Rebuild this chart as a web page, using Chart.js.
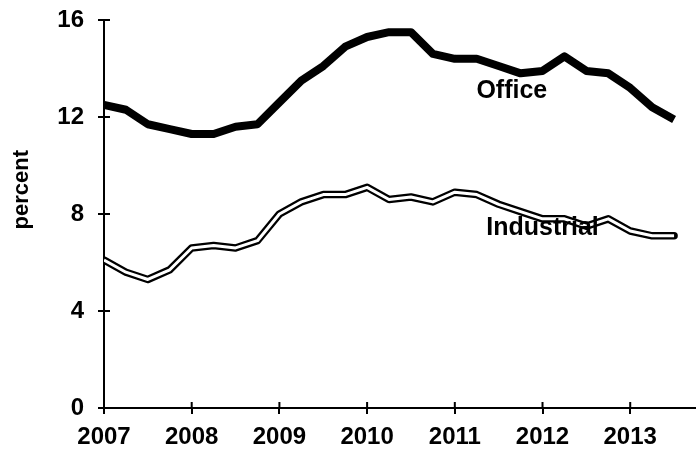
<!DOCTYPE html>
<html>
<head>
<meta charset="utf-8">
<script src="https://cdn.jsdelivr.net/npm/chart.js@4/dist/chart.umd.min.js"></script>
<style>
  html, body { margin: 0; padding: 0; background: #fff; }
  #wrap { width: 696px; height: 455px; }
</style>
</head>
<body>
<div id="wrap"><canvas id="VacancyChart"></canvas></div>
<script>
// quarterly, 2007 Q1 .. 2013 Q3
const quarters = [];
for (let i = 0; i < 27; i++) quarters.push(2007 + i * 0.25);

const office = [12.5, 12.3, 11.7, 11.5, 11.3, 11.3, 11.6, 11.7, 12.6, 13.5, 14.1, 14.9, 15.3, 15.5,
                15.5, 14.6, 14.4, 14.4, 14.1, 13.8, 13.9, 14.5, 13.9, 13.8, 13.2, 12.4, 11.9];
const industrial = [6.1, 5.6, 5.3, 5.7, 6.6, 6.7, 6.6, 6.9, 8.0, 8.5, 8.8, 8.8, 9.1, 8.6,
                    8.7, 8.5, 8.9, 8.8, 8.4, 8.1, 7.8, 7.8, 7.5, 7.8, 7.3, 7.1, 7.1];

const yearTicks = [2007, 2008, 2009, 2010, 2011, 2012, 2013];
const yTicks = [0, 4, 8, 12, 16];

// series labels written on the plot, in data coordinates
const seriesLabels = [
    {text: 'Office', x: 2011.65, y: 13.05},
    {text: 'Industrial', x: 2012.0, y: 7.4}
];

const FONT = '"Liberation Sans", Arial, sans-serif';

function toPoints(values) {
    return values.map((v, i) => ({x: quarters[i], y: v}));
}

// short tick marks reaching into the plot, series names, axis title
const extrasPlugin = {
    id: 'extras',
    afterDraw(chart) {
        const ctx = chart.ctx;
        const xs = chart.scales.x, ys = chart.scales.y;
        ctx.save();
        ctx.strokeStyle = '#000';
        ctx.lineWidth = 2;
        ctx.beginPath();
        yTicks.forEach(v => {
            const py = ys.getPixelForValue(v);
            ctx.moveTo(xs.left, py);
            ctx.lineTo(xs.left + 6, py);
        });
        yearTicks.forEach(v => {
            const px = xs.getPixelForValue(v);
            ctx.moveTo(px, ys.bottom);
            ctx.lineTo(px, ys.bottom - 6);
        });
        ctx.stroke();

        ctx.fillStyle = '#000';
        ctx.font = 'bold 25px ' + FONT;
        ctx.textAlign = 'center';
        ctx.textBaseline = 'middle';
        seriesLabels.forEach(l => {
            ctx.fillText(l.text, xs.getPixelForValue(l.x), ys.getPixelForValue(l.y));
        });

        // y title sits a bit above the middle of the axis
        ctx.translate(22, ys.getPixelForValue(9));
        ctx.rotate(-Math.PI / 2);
        ctx.font = 'bold 22px ' + FONT;
        ctx.fillText('percent', 0, 0);
        ctx.restore();
    }
};

document.addEventListener("DOMContentLoaded", function() {
    const ctx = document.getElementById('VacancyChart').getContext('2d');
    new Chart(ctx, {
        type: 'line',
        data: {
            datasets: [
                {   // white core of the double line
                    data: toPoints(industrial),
                    borderColor: '#fff',
                    borderWidth: 3,
                    pointRadius: 0,
                    borderJoinStyle: 'round',
                    borderCapStyle: 'butt',
                    order: 0
                },
                {
                    label: 'Industrial',
                    data: toPoints(industrial),
                    borderColor: '#000',
                    borderWidth: 7.5,
                    pointRadius: 0,
                    borderJoinStyle: 'round',
                    borderCapStyle: 'round',
                    order: 1
                },
                {
                    label: 'Office',
                    data: toPoints(office),
                    borderColor: '#000',
                    borderWidth: 8,
                    pointRadius: 0,
                    borderJoinStyle: 'round',
                    borderCapStyle: 'butt',
                    order: 2
                }
            ]
        },
        options: {
            responsive: true,
            maintainAspectRatio: false,
            animation: false,
            layout: {padding: 0},
            plugins: {
                legend: {display: false},
                tooltip: {enabled: false}
            },
            scales: {
                x: {
                    type: 'linear',
                    min: 2007,
                    max: 2013.75,
                    afterBuildTicks: axis => { axis.ticks = yearTicks.map(v => ({value: v})); },
                    afterFit: axis => { axis.height = 47; axis.paddingLeft = 0; axis.paddingRight = 0; },
                    border: {color: '#000', width: 2},
                    grid: {drawOnChartArea: false, tickLength: 6, color: '#000', lineWidth: 2},
                    ticks: {
                        color: '#000',
                        padding: 9,
                        maxRotation: 0,
                        autoSkip: false,
                        callback: v => String(v),
                        font: {family: FONT, weight: 'bold', size: 24}
                    }
                },
                y: {
                    min: 0,
                    max: 16,
                    afterBuildTicks: axis => { axis.ticks = yTicks.map(v => ({value: v})); },
                    afterFit: axis => { axis.width = 104; axis.paddingTop = 20; axis.paddingBottom = 0; },
                    border: {color: '#000', width: 2},
                    grid: {drawOnChartArea: false, tickLength: 6, color: '#000', lineWidth: 2},
                    ticks: {
                        color: '#000',
                        padding: 14,
                        font: {family: FONT, weight: 'bold', size: 24}
                    }
                }
            }
        },
        plugins: [extrasPlugin]
    });
});
</script>
</body>
</html>
